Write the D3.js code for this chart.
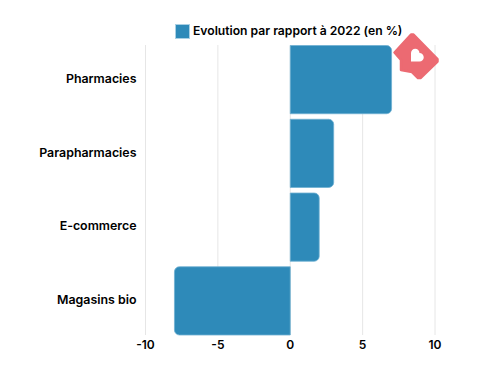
<!DOCTYPE html>
<html>
<head>
<meta charset="utf-8">
<script src="https://cdn.jsdelivr.net/npm/d3@7"></script>
<style>
    html, body { margin: 0; padding: 0; background: #fff; }
    text { font-family: Inter, "Open Sans", sans-serif; font-weight: 600; fill: #000; }
</style>
</head>
<body>
<div id="chart"></div>
<script>
const categories = ['Pharmacies', 'Parapharmacies', 'E-commerce', 'Magasins bio'];
const values = [7, 3, 2, -8];
const xTicks = [-10, -5, 0, 5, 10];
const legendLabel = 'Evolution par rapport à 2022 (en %)';

const width = 477, height = 386;
const color = '#2e8ab9';

const svg = d3.select('#chart')
    .append('svg')
    .attr('width', width)
    .attr('height', height)
    .style('display', 'block');

const xScale = d3.scaleLinear()
    .domain([-10, 10])
    .range([145.5, 435]);

const yScale = d3.scaleBand()
    .domain(categories)
    .range([45.5, 335])
    .paddingInner(0.075);

// grid
svg.append('g')
    .selectAll('line')
    .data(xTicks)
    .join('line')
    .attr('x1', d => xScale(d))
    .attr('x2', d => xScale(d))
    .attr('y1', 45)
    .attr('y2', 335)
    .attr('stroke', '#e6e6e6')
    .attr('stroke-width', 1);

// bars, only the end away from zero is rounded
function barPath(d) {
    const x0 = xScale(0), x1 = xScale(d.value);
    const y0 = yScale(d.name), y1 = y0 + yScale.bandwidth();
    const dir = d.value < 0 ? -1 : 1;
    const r = Math.min(5, Math.abs(x1 - x0));
    const sweep = dir > 0 ? 1 : 0;
    return `M${x0},${y0}L${x1 - dir * r},${y0}A${r},${r} 0 0 ${sweep} ${x1},${y0 + r}` +
        `L${x1},${y1 - r}A${r},${r} 0 0 ${sweep} ${x1 - dir * r},${y1}L${x0},${y1}Z`;
}

svg.append('g')
    .selectAll('path')
    .data(categories.map((name, i) => ({ name: name, value: values[i] })))
    .join('path')
    .attr('d', barPath)
    .attr('fill', color)
    .attr('stroke', '#6fb0d2')
    .attr('stroke-width', 0.8);

// category labels
svg.append('g')
    .selectAll('text')
    .data(categories)
    .join('text')
    .attr('x', 136.5)
    .attr('y', d => yScale(d) + yScale.bandwidth() / 2 - 1)
    .attr('dy', '0.35em')
    .attr('text-anchor', 'end')
    .style('font-size', '12.4px')
    .text(d => d);

// x tick labels
svg.append('g')
    .selectAll('text')
    .data(xTicks)
    .join('text')
    .attr('x', d => xScale(d))
    .attr('y', 348.5)
    .attr('text-anchor', 'middle')
    .style('font-size', '12px')
    .text(d => d);

// legend
svg.append('rect')
    .attr('x', 175.5)
    .attr('y', 24.5)
    .attr('width', 14)
    .attr('height', 14)
    .attr('fill', color)
    .attr('stroke', '#a9d0e4');

svg.append('text')
    .attr('x', 193)
    .attr('y', 35)
    .style('font-size', '12.15px')
    .text(legendLabel);

// logo
const logo = svg.append('g');
logo.append('path')
    .attr('d', 'M394.5,52.5L411,34.5L413.5,34.5L437.5,59L437.5,61.5L420.5,78L418,78L412,72L401,70L401,60Z')
    .attr('fill', '#ec6a72')
    .attr('stroke', '#ec6a72')
    .attr('stroke-width', 2.5)
    .attr('stroke-linejoin', 'round');
logo.append('path')
    .attr('d', 'M411,61.5L411,53A4.25,4.25 0 0 1 419.5,53A4.25,4.25 0 0 1 419.5,61.5Z')
    .attr('fill', '#fff');
</script>
</body>
</html>
